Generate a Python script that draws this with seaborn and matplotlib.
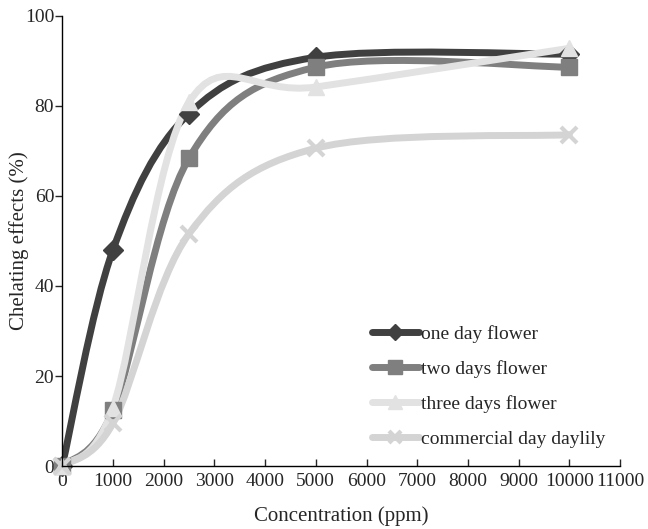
import numpy as np
import matplotlib
matplotlib.use("Agg")
import matplotlib.pyplot as plt
from matplotlib.path import Path
from matplotlib.patches import PathPatch
from matplotlib.lines import Line2D
import seaborn as sns

# data
conc = [0, 1000, 2500, 5000, 10000]
one_day = [0, 48, 78.3, 90.8, 91.5]
two_days = [0, 12.4, 68.4, 88.6, 88.6]
three_days = [0, 13, 80.8, 84.2, 92.8]
commercial = [0, 9.5, 51.6, 70.6, 73.6]

labels = ["one day flower", "two days flower", "three days flower", "commercial day daylily"]
colors = ["#404040", "#7f7f7f", "#e2e2e2", "#d4d4d4"]
markers = ["D", "s", "^", "x"]
msizes = [10, 12, 12, 11]

sns.set_style("ticks")
plt.rcParams["font.family"] = ["Liberation Serif", "DejaVu Serif"]


def smooth_path(x, y):
    # excel-like smoothed line: cubic bezier with catmull-rom control points
    pts = np.column_stack([x, y]).astype(float)
    n = len(pts)
    verts = [pts[0]]
    codes = [Path.MOVETO]
    for i in range(n - 1):
        p0 = pts[max(i - 1, 0)]
        p1 = pts[i]
        p2 = pts[i + 1]
        p3 = pts[min(i + 2, n - 1)]
        c1 = p1 + (p2 - p0) / 6
        c2 = p2 - (p3 - p1) / 6
        verts += [c1, c2, p2]
        codes += [Path.CURVE4] * 3
    return Path(verts, codes)


fig = plt.figure(figsize=(6.48, 5.29), dpi=100)
ax = fig.add_axes([0.096, 0.119, 0.861, 0.851])

series = [one_day, two_days, three_days, commercial]
handles = []
for vals, lab, col, mk, ms in zip(series, labels, colors, markers, msizes):
    patch = PathPatch(smooth_path(conc, vals), facecolor="none", edgecolor=col,
                      lw=5, capstyle="round", joinstyle="round")
    ax.add_patch(patch)
    if mk == "x":
        ax.plot(conc, vals, ls="none", marker=mk, ms=ms, mew=3, color=col, clip_on=False)
    else:
        ax.plot(conc, vals, ls="none", marker=mk, ms=ms, mfc=col, mec=col, color=col, clip_on=False)
    handles.append(Line2D([], [], color=col, lw=5, solid_capstyle="round", marker=mk,
                          ms=ms * 0.85, mfc=col, mec=col, mew=3 if mk == "x" else 1))

ax.set_xlim(0, 11000)
ax.set_ylim(0, 100)
ax.set_xticks(range(0, 11001, 1000))
ax.set_yticks(range(0, 101, 20))
ax.tick_params(axis="x", direction="in", length=5, width=1, labelsize=14, pad=5)
ax.tick_params(axis="y", direction="out", length=5, width=1, labelsize=14, pad=0.8)
for s in ["top", "right"]:
    ax.spines[s].set_visible(False)
for s in ["left", "bottom"]:
    ax.spines[s].set_color("black")
    ax.spines[s].set_linewidth(1)

ax.set_xlabel("Concentration (ppm)", fontsize=15)
ax.set_ylabel("Chelating effects (%)", fontsize=15)
ax.xaxis.set_label_coords(0.5, -0.09)
ax.yaxis.set_label_coords(-0.06, 0.5)

ax.legend(handles, labels, frameon=False, loc="upper left", bbox_to_anchor=(0.537, 0.335),
          fontsize=14, handlelength=2.45, handletextpad=0.1, labelspacing=0.88, borderpad=0)

fig.savefig("out.png", dpi=100)
